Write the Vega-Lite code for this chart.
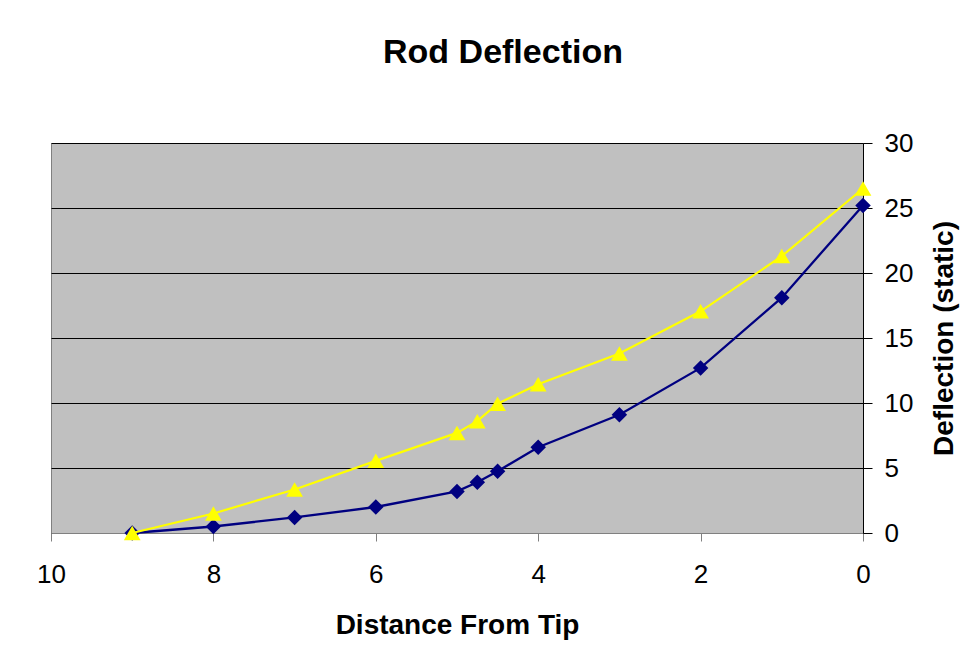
{
  "$schema": "https://vega.github.io/schema/vega-lite/v6.json",
  "autosize": "none",
  "width": 812,
  "height": 390,
  "padding": {"left": 51, "top": 143, "right": 116, "bottom": 138},
  "background": "white",
  "config": {
    "font": "Liberation Sans",
    "view": {"fill": "#C0C0C0", "stroke": "#808080", "strokeWidth": 1}
  },
  "title": {
    "text": "Rod Deflection",
    "fontSize": 34,
    "fontWeight": "bold",
    "font": "Liberation Sans",
    "color": "black",
    "anchor": "middle",
    "frame": "group",
    "dx": 46,
    "offset": 60
  },
  "data": {
    "values": [
      {"distance": 9, "deflection": 0, "series": "A"},
      {"distance": 8, "deflection": 0.5, "series": "A"},
      {"distance": 7, "deflection": 1.2, "series": "A"},
      {"distance": 6, "deflection": 2.0, "series": "A"},
      {"distance": 5, "deflection": 3.2, "series": "A"},
      {"distance": 4.75, "deflection": 3.9, "series": "A"},
      {"distance": 4.5, "deflection": 4.75, "series": "A"},
      {"distance": 4, "deflection": 6.6, "series": "A"},
      {"distance": 3, "deflection": 9.1, "series": "A"},
      {"distance": 2, "deflection": 12.7, "series": "A"},
      {"distance": 1, "deflection": 18.1, "series": "A"},
      {"distance": 0, "deflection": 25.2, "series": "A"},
      {"distance": 9, "deflection": 0, "series": "B"},
      {"distance": 8, "deflection": 1.5, "series": "B"},
      {"distance": 7, "deflection": 3.35, "series": "B"},
      {"distance": 6, "deflection": 5.55, "series": "B"},
      {"distance": 5, "deflection": 7.7, "series": "B"},
      {"distance": 4.75, "deflection": 8.6, "series": "B"},
      {"distance": 4.5, "deflection": 9.95, "series": "B"},
      {"distance": 4, "deflection": 11.45, "series": "B"},
      {"distance": 3, "deflection": 13.8, "series": "B"},
      {"distance": 2, "deflection": 17.05, "series": "B"},
      {"distance": 1, "deflection": 21.3, "series": "B"},
      {"distance": 0, "deflection": 26.5, "series": "B"}
    ]
  },
  "encoding": {
    "x": {
      "field": "distance",
      "type": "quantitative",
      "scale": {"domain": [10, 0], "nice": false, "zero": false},
      "axis": {
        "orient": "bottom",
        "values": [0, 2, 4, 6, 8, 10],
        "grid": false,
        "domainColor": "#808080",
        "tickColor": "#808080",
        "tickSize": 8,
        "labelFontSize": 26,
        "labelColor": "black",
        "labelPadding": 20,
        "labelFlush": false,
        "labelOverlap": false,
        "title": "Distance From Tip",
        "titleFontSize": 28,
        "titleFontWeight": "bold",
        "titleColor": "black",
        "titlePadding": 24
      }
    },
    "y": {
      "field": "deflection",
      "type": "quantitative",
      "scale": {"domain": [0, 30], "nice": false},
      "axis": {
        "orient": "right",
        "values": [0, 5, 10, 15, 20, 25, 30],
        "grid": true,
        "gridColor": "black",
        "gridOpacity": 1,
        "gridWidth": 1,
        "domainColor": "black",
        "tickColor": "black",
        "tickSize": 9,
        "labelFontSize": 26,
        "labelColor": "black",
        "labelPadding": 12,
        "labelFlush": false,
        "labelOverlap": false,
        "title": "Deflection (static)",
        "titleFontSize": 28,
        "titleFontWeight": "bold",
        "titleColor": "black",
        "titleAngle": 270,
        "titlePadding": 46
      }
    }
  },
  "layer": [
    {
      "transform": [{"filter": "datum.series === 'A'"}],
      "mark": {"type": "line", "color": "#000080", "strokeWidth": 2.3}
    },
    {
      "transform": [{"filter": "datum.series === 'A'"}],
      "mark": {"type": "point", "shape": "diamond", "filled": true, "color": "#000080", "opacity": 1, "size": 240}
    },
    {
      "transform": [{"filter": "datum.series === 'B'"}],
      "mark": {"type": "line", "color": "#FFFF00", "strokeWidth": 2.2}
    },
    {
      "transform": [{"filter": "datum.series === 'B'"}],
      "mark": {"type": "point", "shape": "triangle-up", "filled": true, "color": "#FFFF00", "opacity": 1, "size": 280}
    }
  ]
}
